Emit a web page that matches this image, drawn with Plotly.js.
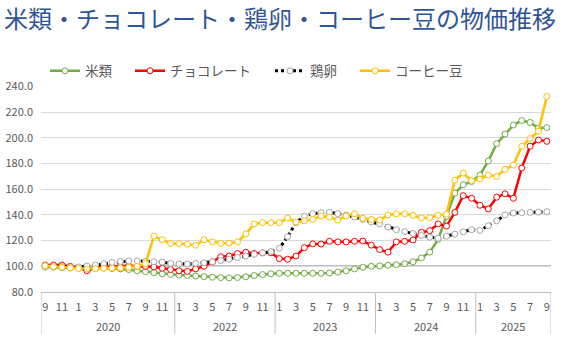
<!DOCTYPE html>
<html>
<head>
<meta charset="utf-8">
<script src="https://cdn.plot.ly/plotly-3.0.1.min.js"></script>
<style>html,body{margin:0;padding:0;background:#fff;}#chart{width:577px;height:355px;}</style>
</head>
<body>
<div id="chart"></div>
<script>
// ---- data (Sep 2020 .. Sep 2025, monthly) ----
const yearLabels = ['2020', '2022', '2023', '2024', '2025'];
const monthsPerYearLabel = [16, 12, 12, 12, 9];
const monthNums = [9,10,11,12, 1,2,3,4,5,6,7,8,9,10,11,12,
                   1,2,3,4,5,6,7,8,9,10,11,12,
                   1,2,3,4,5,6,7,8,9,10,11,12,
                   1,2,3,4,5,6,7,8,9,10,11,12,
                   1,2,3,4,5,6,7,8,9];
const seriesNames = ['米類', 'チョコレート', '鶏卵', 'コーヒー豆'];
const rice = [99.5,99.3,99.0,98.8,98.6,98.5,98.6,98.6,98.3,98.0,
              97.5,96.5,95.8,95.0,94.2,93.7,93.2,92.8,92.4,91.9,
              91.5,91.2,91.0,91.3,91.8,92.8,93.6,94.2,94.6,94.6,
              94.6,94.6,94.6,94.6,94.8,95.5,96.5,98.0,99.3,100.0,
              100.3,100.8,101.3,102.0,103.5,106.5,111.0,121.0,139.0,157.0,
              163.5,166.0,171.0,182.0,195.5,203.0,210.0,213.5,212.0,207.5,
              208.0];
const chocolate = [101,101,101,100,99,96.5,99,99.5,100,100,
                   100.5,100,100,99.5,98.5,97.5,96.5,96,98,100,
                   103.5,107.5,108,110,111,110,110.5,110.5,106,105.5,
                   108,114.5,117.5,117.3,119.5,119,119,119.5,119.7,116.5,
                   113,111,119,119.5,120.5,126.5,127.8,133,131.3,142,
                   155,153,147.5,144.7,153.8,156.4,153,176.5,193.5,198.3,
                   197.3];
const eggs = [99.5,99.8,99.8,99.5,99.5,100.2,101,102,103,103.8,
              104.2,104.2,103.8,103.5,103.3,102.3,101.8,101.8,102.3,102.8,
              103.5,104.5,105.5,106.8,108,109.3,110.5,111.5,114,123,
              134,139,141,141.7,142,141,139.8,138.4,136.5,134.5,
              133,130.5,128.5,127,125.5,124,122.7,121.8,123.5,125,
              126.8,128.5,128,131.6,135.4,140,141.5,141.7,142,142.2,
              142.5];
const coffee = [100.5,99.8,99.3,98.8,98.3,98,98.2,98.5,98.6,98.8,
                99.2,100,102,123.5,120.7,117.7,117.7,117.2,116.4,120.7,
                119,117.9,118,119,125.3,133,134,134,134,137.5,
                134.5,135.4,136.6,139.2,138.4,136,139.2,140.9,137.4,136.6,
                136,139.9,140.9,140.9,139.7,137.7,137.9,139.7,140.6,167,
                172.6,166.6,168,171,170,175.5,178.8,193.5,199.5,205.2,
                232.3];
const baseline = 100;
const yTicks = [80, 100, 120, 140, 160, 180, 200, 220, 240];

// ---- x positions: one slot per month ----
const xIdx = monthNums.map((m, i) => i);
const tickIdx = xIdx.filter(i => monthNums[i] % 2 === 1);
const tickText = tickIdx.map(i => String(monthNums[i]));
// group boundaries / centres for the year row
const groupStart = [];
monthsPerYearLabel.reduce((acc, n) => { groupStart.push(acc); return acc + n; }, 0);
const boundaries = groupStart.map(s => s - 0.5).concat([monthNums.length - 0.5]);
const groupCentre = groupStart.map((s, k) => s + (monthsPerYearLabel[k] - 1) / 2);

const FONT = '"Noto Sans CJK JP", "Noto Sans", sans-serif';
const GREY = '#595959';
const lineColors = ['#70AD47', '#FF0000', '#000000', '#FFC000'];
const markerLines = ['#70AD47', '#FF0000', '#A6A6A6', '#FFC000'];
const lineWidths = [2.5, 2.5, 3, 2.5];
const dashes = ['solid', 'solid', 'dot', 'solid'];
const values = [rice, chocolate, eggs, coffee];
const legendIds = ['legend', 'legend2', 'legend3', 'legend4'];

const traces = values.map((v, k) => ({
  type: 'scatter', mode: 'lines+markers',
  name: seriesNames[k], x: xIdx, y: v,
  legend: legendIds[k],
  line: {color: lineColors[k], width: lineWidths[k], dash: dashes[k]},
  marker: {symbol: 'circle', size: 6, color: '#FFFFFF', line: {color: markerLines[k], width: 1}},
  hoverinfo: 'y+name'
}));

const legendX = [45, 130, 270, 355];
const legendBase = {
  orientation: 'h', xref: 'container', yref: 'container',
  y: 1 - 71 / 355, yanchor: 'middle', xanchor: 'left',
  font: {family: FONT, size: 13.5, color: GREY},
  bgcolor: 'rgba(0,0,0,0)', borderwidth: 0, itemwidth: 30
};

const plotH = 355 - 81 - 63;
const shapes = [{
  type: 'line', xref: 'paper', x0: 0, x1: 1, yref: 'y', y0: baseline, y1: baseline,
  line: {color: '#808080', width: 1.5}, layer: 'below'
}].concat(boundaries.map(b => ({
  type: 'line', xref: 'x', x0: b, x1: b, yref: 'paper', y0: 0, y1: -43 / plotH,
  line: {color: '#BFBFBF', width: 1}
})));
const annotations = yearLabels.map((t, k) => ({
  text: t, xref: 'x', x: groupCentre[k], yref: 'paper', y: -35 / plotH,
  xanchor: 'center', yanchor: 'middle', showarrow: false,
  font: {family: FONT, size: 11, color: GREY}
}));

const layout = {
  width: 577, height: 355,
  margin: {l: 41, r: 26, t: 81, b: 63},
  paper_bgcolor: '#FFFFFF', plot_bgcolor: '#FFFFFF',
  font: {family: FONT, color: GREY, size: 11},
  title: {
    text: '米類・チョコレート・鶏卵・コーヒー豆の物価推移',
    font: {family: FONT, size: 24, color: '#2F5597'},
    x: 4 / 577, xanchor: 'left', xref: 'container',
    y: 1 - 20 / 355, yanchor: 'middle', yref: 'container'
  },
  xaxis: {
    type: 'linear', range: [-0.5, monthNums.length - 0.5],
    tickmode: 'array', tickvals: tickIdx, ticktext: tickText, tickangle: 0,
    showgrid: false, zeroline: false,
    showline: true, linecolor: '#BFBFBF', linewidth: 1,
    ticks: '', ticklabelstandoff: 5,
    tickfont: {family: FONT, size: 11, color: GREY}
  },
  yaxis: {
    range: [80, 240], tickvals: yTicks, tickformat: '.1f',
    showgrid: true, gridcolor: '#D9D9D9', gridwidth: 1,
    zeroline: false, showline: false, ticks: '',
    ticklabelstandoff: 7,
    tickfont: {family: FONT, size: 11, color: GREY}
  },
  shapes: shapes,
  annotations: annotations,
  showlegend: true
};
legendIds.forEach((id, k) => { layout[id] = Object.assign({}, legendBase, {x: legendX[k] / 577}); });

Plotly.newPlot('chart', traces, layout, {staticPlot: true, displayModeBar: false});
</script>
</body>
</html>
